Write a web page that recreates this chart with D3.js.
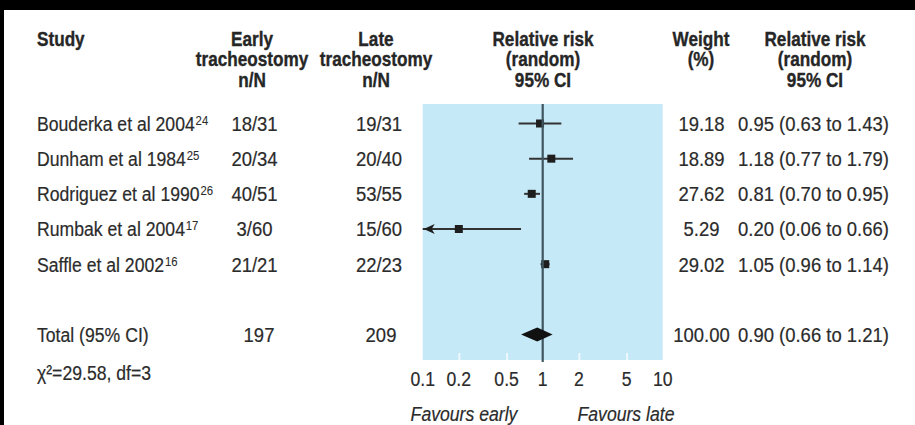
<!DOCTYPE html>
<html>
<head>
<meta charset="utf-8">
<script src="https://cdn.jsdelivr.net/npm/d3@7"></script>
<style>
  html, body { margin: 0; padding: 0; background: #fff; }
  svg { display: block; }
  text { font-family: 'Liberation Sans', Arial, 'Helvetica', sans-serif; fill: #2b2b2b; }
  .hdr { font-weight: bold; font-size: 19.5px; fill: #262626; stroke: #262626; stroke-width: 0.35px; }
  .row { font-size: 21px; stroke: #2b2b2b; stroke-width: 0.2px; }
  .sup { font-size: 13.5px; stroke-width: 0.1px; }
</style>
</head>
<body>
<div id="chart"></div>
<script>
// ---- data ----
const studies = ["Bouderka et al 2004", "Dunham et al 1984", "Rodriguez et al 1990", "Rumbak et al 2004", "Saffle et al 2002"];
const refNumbers = ["24", "25", "26", "17", "16"];
const earlyNN = ["18/31", "20/34", "40/51", "3/60", "21/21"];
const lateNN = ["19/31", "20/40", "53/55", "15/60", "22/23"];
const weights = ["19.18", "18.89", "27.62", "5.29", "29.02"];
const rr = [0.95, 1.18, 0.81, 0.20, 1.05];
const rrLow = [0.63, 0.77, 0.70, 0.06, 0.96];
const rrHigh = [1.43, 1.79, 0.95, 0.66, 1.14];
const totalLabel = "Total (95% CI)";
const totalEarly = "197";
const totalLate = "209";
const totalWeight = "100.00";
const totalRR = [0.90, 0.66, 1.21];
const heterogeneity = "χ²=29.58, df=3";
const tickValues = [0.1, 0.2, 0.5, 1, 2, 5, 10];
const tickLabels = ["0.1", "0.2", "0.5", "1", "2", "5", "10"];
const favours = ["Favours early", "Favours late"];

const W = 915, H = 425;
const svg = d3.select("#chart").append("svg").attr("width", W).attr("height", H);

// condensed-text helper: horizontal squeeze around anchor point
const SX_TEXT = 0.84, SX_NUM = 0.88, SX_HDR = 0.88;
function put(sel, px, py, sx) {
  return sel.attr("transform", (d, i) => {
    const X = typeof px === "function" ? px(d, i) : px;
    const Y = typeof py === "function" ? py(d, i) : py;
    return `translate(${X},${Y}) scale(${sx},1)`;
  });
}

// frame
svg.append("rect").attr("x", 0).attr("y", 0).attr("width", W).attr("height", 10).attr("fill", "#000");
svg.append("rect").attr("x", 0).attr("y", 0).attr("width", 4).attr("height", H).attr("fill", "#000");

const x = d3.scaleLog().domain([0.1, 10]).range([422.7, 662.7]);
const y = d3.scaleLinear().domain([0, 6]).range([123.5, 334.5]);
const panelTop = 104, panelBottom = 360;

// panel
svg.append("rect").attr("x", x(0.1)).attr("y", panelTop)
  .attr("width", x(10) - x(0.1)).attr("height", panelBottom - panelTop)
  .attr("fill", "#c6e9f8");

// ticks (white) at bottom of panel
const axis = d3.axisTop(x).tickValues(tickValues.filter(v => v !== 0.1 && v !== 10 && v !== 1))
  .tickSize(7).tickFormat("");
const axG = svg.append("g").attr("transform", `translate(0,${panelBottom})`).call(axis);
axG.select(".domain").remove();
axG.selectAll(".tick line").attr("stroke", "#eef8fd").attr("stroke-width", 2);

// tick labels
put(svg.append("g").selectAll("text").data(tickValues).join("text")
  .attr("class", "row").attr("dy", "0.35em").attr("text-anchor", "middle")
  .text((d, i) => tickLabels[i]), d => x(d), 378.5, SX_TEXT);

// favours
put(svg.append("text").attr("class", "row").attr("font-style", "italic")
  .attr("dy", "0.35em").attr("text-anchor", "middle").text(favours[0]), 464, 413.5, SX_TEXT);
put(svg.append("text").attr("class", "row").attr("font-style", "italic")
  .attr("dy", "0.35em").attr("text-anchor", "middle").text(favours[1]), 626, 413.5, SX_TEXT);

// headers
function hdr(lines, cx, anchor) {
  const t = svg.append("text").attr("class", "hdr").attr("text-anchor", anchor || "middle");
  put(t, cx, 0, SX_HDR);
  lines.forEach((l, i) => {
    t.append("tspan").attr("x", 0).attr("y", 46 + i * 20.5).text(l);
  });
}
hdr(["Study"], 37, "start");
hdr(["Early", "tracheostomy", "n/N"], 252);
hdr(["Late", "tracheostomy", "n/N"], 376);
hdr(["Relative risk", "(random)", "95% CI"], 543);
hdr(["Weight", "(%)"], 701);
hdr(["Relative risk", "(random)", "95% CI"], 815);

// rows
const rows = svg.append("g");
studies.forEach((s, i) => {
  const t = rows.append("text").attr("class", "row").attr("dy", "0.35em");
  put(t, 37, y(i), SX_TEXT);
  t.append("tspan").text(s);
  t.append("tspan").attr("class", "sup").attr("dy", "-6").attr("dx", "1").text(refNumbers[i]);
});
put(rows.selectAll(".early").data(earlyNN).join("text").attr("class", "row")
  .attr("dy", "0.35em").attr("text-anchor", "middle").text(d => d), 254.5, (d, i) => y(i), SX_NUM);
put(rows.selectAll(".late").data(lateNN).join("text").attr("class", "row")
  .attr("dy", "0.35em").attr("text-anchor", "middle").text(d => d), 379, (d, i) => y(i), SX_NUM);
put(rows.selectAll(".wt").data(weights).join("text").attr("class", "row")
  .attr("dy", "0.35em").attr("text-anchor", "middle").text(d => d), 701.5, (d, i) => y(i), SX_NUM);
const fmt = d3.format(".2f");
put(rows.selectAll(".rrt").data(rr).join("text").attr("class", "row")
  .attr("dy", "0.35em")
  .text((d, i) => `${fmt(d)} (${fmt(rrLow[i])} to ${fmt(rrHigh[i])})`), 738, (d, i) => y(i), SX_NUM);

// total row
put(rows.append("text").attr("class", "row").attr("dy", "0.35em").text(totalLabel), 37, y(6), SX_TEXT);
put(rows.append("text").attr("class", "row").attr("dy", "0.35em").attr("text-anchor", "middle").text(totalEarly), 259, y(6), SX_NUM);
put(rows.append("text").attr("class", "row").attr("dy", "0.35em").attr("text-anchor", "middle").text(totalLate), 381, y(6), SX_NUM);
put(rows.append("text").attr("class", "row").attr("dy", "0.35em").attr("text-anchor", "middle").text(totalWeight), 701.5, y(6), SX_NUM);
put(rows.append("text").attr("class", "row").attr("dy", "0.35em")
  .text(`${fmt(totalRR[0])} (${fmt(totalRR[1])} to ${fmt(totalRR[2])})`), 738, y(6), SX_NUM);
put(rows.append("text").attr("class", "row").attr("dy", "0.35em").text(heterogeneity), 37, 372.5, SX_TEXT);

// CI lines
const plot = svg.append("g");
const clampLo = d => Math.max(d, 0.1);
plot.selectAll(".ci").data(rr).join("line")
  .attr("x1", (d, i) => x(clampLo(rrLow[i]))).attr("x2", (d, i) => x(rrHigh[i]))
  .attr("y1", (d, i) => y(i)).attr("y2", (d, i) => y(i))
  .attr("stroke", "#333").attr("stroke-width", 2);
// arrows for truncated intervals
rr.forEach((d, i) => {
  if (rrLow[i] < 0.1) {
    const x0 = x(0.1) + 1, yy = y(i);
    plot.append("path").attr("d", `M${x0},${yy} L${x0 + 11},${yy - 5} L${x0 + 8},${yy} L${x0 + 11},${yy + 5} Z`)
      .attr("fill", "#1e1e1e");
  }
});
// squares
const sq = 8;
plot.selectAll(".sq").data(rr).join("rect")
  .attr("x", d => x(d) - sq / 2).attr("y", (d, i) => y(i) - sq / 2)
  .attr("width", sq).attr("height", sq).attr("fill", "#1e1e1e");

// vertical line at 1
plot.append("line").attr("x1", x(1)).attr("x2", x(1)).attr("y1", panelTop).attr("y2", panelBottom + 2)
  .attr("stroke", "#3f5560").attr("stroke-width", 2.2);

// diamond
const yt = y(6);
plot.append("path")
  .attr("d", `M${x(totalRR[1])},${yt} L${x(totalRR[0])},${yt - 7} L${x(totalRR[2])},${yt} L${x(totalRR[0])},${yt + 7} Z`)
  .attr("fill", "#111");
</script>
</body>
</html>
